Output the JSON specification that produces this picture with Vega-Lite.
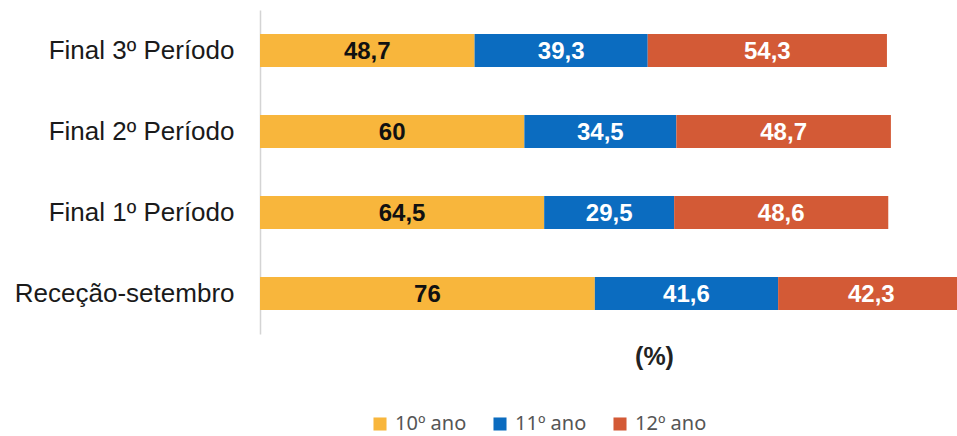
{
  "$schema": "https://vega.github.io/schema/vega-lite/v6.json",
  "autosize": "none",
  "width": 697,
  "height": 324,
  "padding": {"left": 260, "top": 10, "right": 0, "bottom": 102},
  "background": "white",
  "config": {
    "view": {"stroke": null},
    "locale": {"number": {"decimal": ",", "thousands": ".", "grouping": [3], "currency": ["", " €"]}}
  },
  "data": {
    "values": [
      {"periodo": "Final 3º Período", "ano": "10º ano", "ordem": 1, "valor": 48.7},
      {"periodo": "Final 3º Período", "ano": "11º ano", "ordem": 2, "valor": 39.3},
      {"periodo": "Final 3º Período", "ano": "12º ano", "ordem": 3, "valor": 54.3},
      {"periodo": "Final 2º Período", "ano": "10º ano", "ordem": 1, "valor": 60},
      {"periodo": "Final 2º Período", "ano": "11º ano", "ordem": 2, "valor": 34.5},
      {"periodo": "Final 2º Período", "ano": "12º ano", "ordem": 3, "valor": 48.7},
      {"periodo": "Final 1º Período", "ano": "10º ano", "ordem": 1, "valor": 64.5},
      {"periodo": "Final 1º Período", "ano": "11º ano", "ordem": 2, "valor": 29.5},
      {"periodo": "Final 1º Período", "ano": "12º ano", "ordem": 3, "valor": 48.6},
      {"periodo": "Receção-setembro", "ano": "10º ano", "ordem": 1, "valor": 76},
      {"periodo": "Receção-setembro", "ano": "11º ano", "ordem": 2, "valor": 41.6},
      {"periodo": "Receção-setembro", "ano": "12º ano", "ordem": 3, "valor": 42.3}
    ]
  },
  "transform": [
    {"stack": "valor", "groupby": ["periodo"], "sort": [{"field": "ordem"}], "as": ["x0", "x1"]},
    {"calculate": "(datum.x0 + datum.x1) / 2", "as": "xm"}
  ],
  "encoding": {
    "y": {
      "field": "periodo",
      "type": "nominal",
      "sort": ["Final 3º Período", "Final 2º Período", "Final 1º Período", "Receção-setembro"],
      "scale": {"paddingInner": 0.59, "paddingOuter": 0.295},
      "axis": {
        "title": null,
        "ticks": false,
        "domainColor": "#d4d4d4",
        "domainWidth": 1.5,
        "labelFont": "Liberation Sans",
        "labelFontSize": 26,
        "labelColor": "#1a1a1a",
        "labelPadding": 26,
        "labelLimit": 300
      }
    }
  },
  "layer": [
    {
      "mark": {"type": "bar", "clip": true},
      "encoding": {
        "x": {
          "field": "x0",
          "type": "quantitative",
          "scale": {"domain": [0, 158.2], "nice": false, "zero": true},
          "axis": {
            "title": "(%)",
            "labels": false,
            "ticks": false,
            "domain": false,
            "grid": false,
            "titleFont": "Liberation Sans",
            "titleFontSize": 25,
            "titleFontWeight": "bold",
            "titleColor": "#222",
            "titleX": 394,
            "titleY": 22,
            "titleAlign": "center",
            "titleBaseline": "middle"
          }
        },
        "x2": {"field": "x1"},
        "color": {
          "field": "ano",
          "type": "nominal",
          "scale": {"domain": ["10º ano", "11º ano", "12º ano"], "range": ["#f8b63c", "#0b6cc0", "#d35a36"]},
          "legend": {
            "title": null,
            "orient": "none",
            "direction": "horizontal",
            "legendX": 110,
            "legendY": 404,
            "symbolType": "square",
            "symbolSize": 170,
            "symbolStrokeWidth": 0,
            "labelFont": "Noto Sans",
            "labelFontSize": 20,
            "labelColor": "#555",
            "columnPadding": 23,
            "labelOffset": 5
          }
        }
      }
    },
    {
      "mark": {"type": "text", "font": "Liberation Sans", "fontSize": 24, "fontWeight": "bold", "baseline": "middle", "align": "center", "dy": 1},
      "encoding": {
        "x": {"field": "xm", "type": "quantitative"},
        "text": {"field": "valor", "type": "quantitative", "format": ".1~f"},
        "color": {
          "condition": {"test": "datum.ordem == 1", "value": "#111111"},
          "value": "#ffffff"
        }
      }
    }
  ]
}
